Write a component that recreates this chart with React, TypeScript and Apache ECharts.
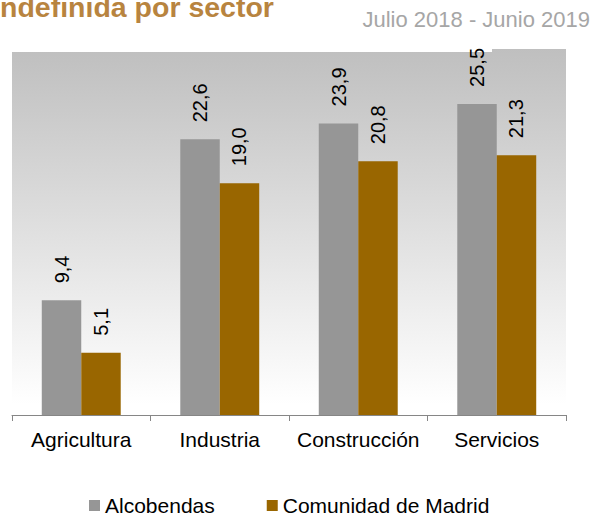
import React, { useEffect, useRef } from "react";
import * as echarts from "echarts";

const categories = ["Agricultura", "Industria", "Construcción", "Servicios"];
const alcobendas = [9.4, 22.6, 23.9, 25.5];
const madrid = [5.1, 19.0, 20.8, 21.3];
const seriesNames = ["Alcobendas", "Comunidad de Madrid"];
const titleText = "ndefinida por sector";
const subtitleText = "Julio 2018 - Junio 2019";

const fmt = (p: any) => Number(p.value).toFixed(1).replace(".", ",");

export default function App() {
  const ref = useRef<HTMLDivElement>(null);
  useEffect(() => {
    if (!ref.current) return;
    const chart = echarts.init(ref.current, null, { renderer: "svg" });
    const labelCfg = {
      show: true,
      position: "top",
      rotate: 90,
      align: "left",
      verticalAlign: "middle",
      distance: 17,
      fontSize: 20,
      color: "#000",
      fontFamily: "Liberation Sans, Arial, sans-serif",
      formatter: fmt,
    };
    chart.setOption({
      animation: false,
      textStyle: { fontFamily: "Liberation Sans, Arial, sans-serif" },
      grid: {
        left: 12,
        right: 28,
        top: 49,
        bottom: 100,
        show: true,
        borderWidth: 0,
        backgroundColor: new echarts.graphic.LinearGradient(0, 0, 0, 1, [
          { offset: 0, color: "#bfbfbf" },
          { offset: 0.97, color: "#ffffff" },
          { offset: 1, color: "#ffffff" },
        ]),
      },
      graphic: [
        {
          type: "rect",
          z: 1,
          shape: { x: 0, y: 0, width: 492, height: 52 },
          style: { fill: "#ffffff" },
        },
        {
          type: "text",
          z: 10,
          x: 0,
          y: 7,
          style: {
            text: titleText,
            fill: "#b8843f",
            font: "bold 28.5px 'Liberation Sans', Arial, sans-serif",
            verticalAlign: "middle",
            align: "left",
          },
        },
        {
          type: "text",
          z: 10,
          x: 590,
          y: 19.5,
          style: {
            text: subtitleText,
            fill: "#a6a6a6",
            font: "22px 'Liberation Sans', Arial, sans-serif",
            verticalAlign: "middle",
            align: "right",
          },
        },
      ],
      legend: {
        left: 89,
        top: 495,
        padding: 0,
        itemWidth: 11,
        itemHeight: 11,
        itemGap: 52,
        icon: "rect",
        textStyle: { fontSize: 21, color: "#000" },
        data: seriesNames,
      },
      xAxis: {
        type: "category",
        data: categories,
        axisLine: { lineStyle: { color: "#868686", width: 1 } },
        axisTick: { show: true, length: 6, lineStyle: { color: "#868686" } },
        axisLabel: { fontSize: 21, color: "#000", margin: 14, interval: 0 },
      },
      yAxis: {
        type: "value",
        min: 0,
        max: 30,
        show: false,
        splitLine: { show: false },
      },
      series: [
        {
          name: seriesNames[0],
          type: "bar",
          data: alcobendas,
          barGap: "0%",
          barCategoryGap: "43%",
          itemStyle: { color: "#969696" },
          label: labelCfg,
        },
        {
          name: seriesNames[1],
          type: "bar",
          data: madrid,
          barGap: "0%",
          barCategoryGap: "43%",
          itemStyle: { color: "#996600" },
          label: labelCfg,
        },
      ],
    });
    return () => chart.dispose();
  }, []);
  return <div ref={ref} style={{ width: 594, height: 515, position: "absolute", left: 0, top: 0 }} />;
}
